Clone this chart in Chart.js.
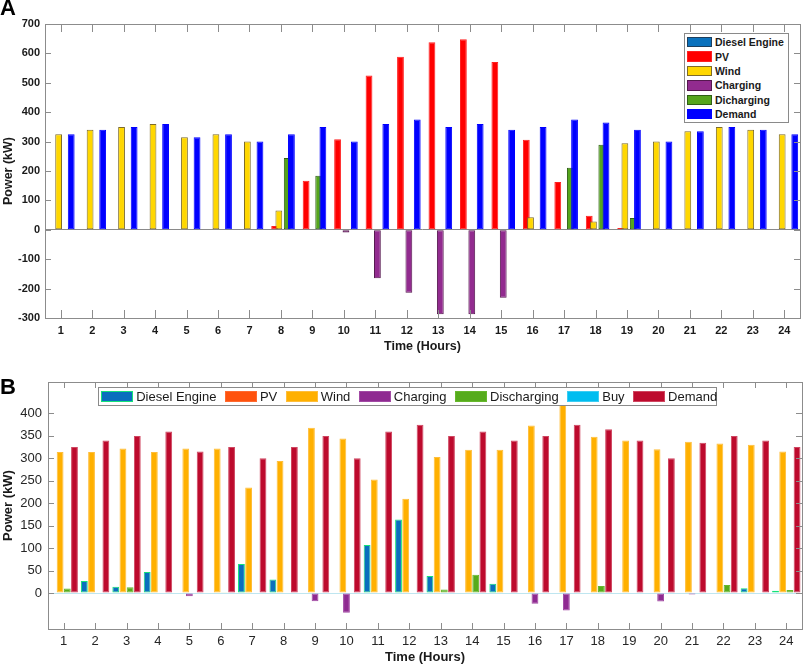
<!DOCTYPE html>
<html>
<head>
<meta charset="utf-8">
<script src="https://cdn.jsdelivr.net/npm/chart.js@4.4.1/dist/chart.umd.min.js"></script>
<style>
  body { margin: 0; background: #fff; width: 803px; height: 665px; position: relative; overflow: hidden;
         font-family: "Liberation Sans", Arial, sans-serif; }
  canvas { position: absolute; left: 0; }
  #chartA { top: 0; }
  #chartB { top: 356px; }
  .panel-label { position: absolute; left: 0; font-weight: bold; font-size: 22px; line-height: 22px; color: #000; }
  .legend { position: absolute; box-sizing: border-box; background: #fff; border: 1px solid #8a8a8a; color: #1a1a1a; }
  #legendA { left: 684px; top: 33px; width: 105px; height: 90px; padding: 1px 0 0 2.3px;
             font-weight: bold; font-size: 10.5px; }
  #legendA .row { height: 14.4px; display: flex; align-items: center; white-space: nowrap; }
  #legendA .sw { width: 25px; height: 10.5px; box-sizing: border-box; border: 1px solid; margin-right: 2.7px; }
  #legendB { left: 98px; top: 387px; width: 619px; height: 19px; padding-left: 2px;
             display: flex; align-items: center; gap: 8.3px; font-size: 13px; }
  #legendB .item { display: flex; align-items: center; white-space: nowrap; }
  #legendB .sw { width: 32px; height: 11.7px; box-sizing: border-box; border: 1px solid; margin-right: 3.2px; }
</style>
</head>
<body>
<canvas id="chartA" width="803" height="356"></canvas>
<canvas id="chartB" width="803" height="309"></canvas>
<div class="panel-label" style="top:-3px">A</div>
<div class="panel-label" style="top:376px">B</div>
<div id="legendA" class="legend"></div>
<div id="legendB" class="legend"></div>
<script>
// hours on the x axis (both panels)
const hours = ['1','2','3','4','5','6','7','8','9','10','11','12',
               '13','14','15','16','17','18','19','20','21','22','23','24'];

// panel A values (kW)
const dieselA      = [0,0,0,0,0,0,0,0,0,0,0,0,0,0,0,0,0,0,0,0,0,0,0,0];
const pvA          = [0,0,0,0,0,0,0,13,167,308,525,589,638,648,571,306,163,48,6,0,0,0,0,0];
const windA        = [325,340,350,360,315,325,300,66,0,0,0,0,0,0,0,43,0,28,294,300,335,350,340,325];
const chargingA    = [0,0,0,0,0,0,0,0,0,-9,-165,-214,-287,-287,-231,0,0,0,0,0,0,0,0,0];
const dischargingA = [0,0,0,0,0,0,0,244,184,0,0,0,0,0,0,0,211,289,40,0,0,0,0,0];
const demandA      = [325,340,350,360,315,325,300,325,350,300,360,375,350,360,340,350,375,365,340,300,335,350,340,325];
const yTicksA = [-300,-200,-100,0,100,200,300,400,500,600,700];

// panel B values (kW)
const dieselB      = [0,27,14,47,0,0,65,30,0,0,107,164,38,0,21,0,0,0,0,0,0,0,11,5];
const pvB          = [0,0,0,0,0,0,0,0,0,0,0,0,0,0,0,0,0,0,0,0,0,0,0,0];
const windB        = [314,314,322,314,322,322,235,294,368,344,253,210,303,319,319,373,420,348,340,320,337,333,330,315];
const chargingB    = [0,0,0,0,-7,0,0,0,-18,-44,0,0,0,0,0,-24,-39,0,0,-19,-3,0,0,0];
const dischargingB = [10,0,13,0,0,2,0,0,0,0,0,0,8,41,0,0,0,16,0,0,0,18,0,7];
const buyB         = [0,0,0,0,0,0,0,0,0,0,0,0,0,0,0,0,0,0,0,0,0,0,0,0];
const demandB      = [325,340,350,360,315,325,300,325,350,300,360,375,350,360,340,350,375,365,340,300,335,350,340,325];
const yTicksB = [0,50,100,150,200,250,300,350,400];

const namesA = ['Diesel Engine','PV','Wind','Charging','Dicharging','Demand'];
const fillA  = ['#0b72bd','#ff0000','#ffd700','#922b8f','#55a51c','#0000ff'];
const edgeA  = ['#1d3f5e','#ff2020','#7d6b2a','#55184f','#2f5f16','#0000ff'];

const namesB = ['Diesel Engine','PV','Wind','Charging','Discharging','Buy','Demand'];
const fillB  = ['#0a6fbd','#ff520d','#ffb000','#8f2a91','#56ab1c','#00bdf0','#bd0a2d'];
const edgeB  = ['#14e27a','#ff6a30','#ffbe3a','#a24aa4','#66b82c','#3ccdf2','#cf4660'];

Chart.defaults.font.family = '"Liberation Sans", Arial, sans-serif';
Chart.defaults.animation = false;

// MATLAB draws later series on top, chart.js the other way round
const drawInOrder = {
  id: 'drawInOrder',
  beforeDatasetsDraw(chart) {
    chart.getSortedVisibleDatasetMetas().forEach(meta => {
      if (chart._drawDataset) chart._drawDataset(meta); else meta.controller.draw();
    });
    return false;
  }
};

// box round the plot + inward tick marks
const frame = {
  id: 'frame',
  afterDraw(chart, args, opts) {
    const { ctx, chartArea: a, scales: { x, y } } = chart;
    ctx.save();
    ctx.strokeStyle = opts.color;
    ctx.lineWidth = 1;
    ctx.beginPath();
    x.ticks.forEach((t, i) => {
      const px = Math.round(x.getPixelForTick(i)) + 0.5;
      ctx.moveTo(px, a.top); ctx.lineTo(px, a.top + opts.xTick);
      ctx.moveTo(px, a.bottom); ctx.lineTo(px, a.bottom - opts.xTick);
    });
    y.ticks.forEach(t => {
      const py = Math.round(y.getPixelForValue(t.value)) + 0.5;
      ctx.moveTo(a.left, py); ctx.lineTo(a.left + opts.yTick, py);
      ctx.moveTo(a.right, py); ctx.lineTo(a.right - opts.yTick, py);
    });
    ctx.stroke();
    ctx.strokeRect(Math.round(a.left) + 0.5, Math.round(a.top) + 0.5,
                   Math.round(a.right - a.left), Math.round(a.bottom - a.top));
    ctx.restore();
  }
};

function makeDatasets(names, values, fills, edges) {
  return names.map((n, i) => ({
    label: n,
    data: values[i],
    backgroundColor: fills[i],
    borderColor: edges[i],
    borderWidth: 1,
    borderSkipped: false
  }));
}

// ---- panel A ----
new Chart(document.getElementById('chartA'), {
  type: 'bar',
  data: {
    labels: hours,
    datasets: makeDatasets(namesA, [dieselA, pvA, windA, chargingA, dischargingA, demandA], fillA, edgeA)
  },
  options: {
    responsive: false,
    events: [],
    categoryPercentage: 0.8,
    barPercentage: 1.62,
    layout: { padding: { top: 24, right: 3, left: 0, bottom: 0 } },
    plugins: {
      legend: { display: false },
      tooltip: { enabled: false },
      frame: { color: '#8c8c8c', xTick: 8, yTick: 6 }
    },
    scales: {
      x: {
        afterFit: s => { s.height = 38; },
        grid: { display: false, drawTicks: false },
        border: { display: false },
        ticks: { font: { size: 11, weight: 'bold' }, color: '#1a1a1a', padding: 6, maxRotation: 0, autoSkip: false },
        title: { display: true, text: 'Time (Hours)', color: '#1a1a1a',
                 font: { size: 12.5, weight: 'bold' }, padding: { top: 0, bottom: 2 } }
      },
      y: {
        min: -300, max: 700,
        afterBuildTicks: s => { s.ticks = yTicksA.map(v => ({ value: v })); },
        afterFit: s => { s.width = 45; },
        grid: { drawTicks: false, color: c => (c.tick && c.tick.value === 0) ? '#8a8a8a' : 'rgba(0,0,0,0)' },
        border: { display: false },
        ticks: { font: { size: 11, weight: 'bold' }, color: '#1a1a1a', padding: 5 },
        title: { display: true, text: 'Power (kW)', color: '#1a1a1a',
                 font: { size: 12.5, weight: 'bold' }, padding: { top: 1, bottom: 0 } }
      }
    }
  },
  plugins: [drawInOrder, frame]
});

// ---- panel B ----
new Chart(document.getElementById('chartB'), {
  type: 'bar',
  data: {
    labels: hours,
    datasets: makeDatasets(namesB, [dieselB, pvB, windB, chargingB, dischargingB, buyB, demandB], fillB, edgeB)
  },
  options: {
    responsive: false,
    events: [],
    categoryPercentage: 0.8,
    barPercentage: 1.9,
    layout: { padding: { top: 26, right: 1, left: 0, bottom: 0 } },
    plugins: {
      legend: { display: false },
      tooltip: { enabled: false },
      frame: { color: '#8c8c8c', xTick: 6, yTick: 6 }
    },
    scales: {
      x: {
        afterFit: s => { s.height = 36; },
        grid: { display: false, drawTicks: false },
        border: { display: false },
        ticks: { font: { size: 13 }, color: '#262626', padding: 5, maxRotation: 0, autoSkip: false },
        title: { display: true, text: 'Time (Hours)', color: '#1a1a1a',
                 font: { size: 13, weight: 'bold' }, padding: { top: 0, bottom: 0 } }
      },
      y: {
        min: -80, max: 470,
        afterBuildTicks: s => { s.ticks = yTicksB.map(v => ({ value: v })); },
        afterFit: s => { s.width = 48; },
        grid: { drawTicks: false, color: c => (c.tick && c.tick.value === 0) ? '#bfe6f0' : 'rgba(0,0,0,0)' },
        border: { display: false },
        ticks: { font: { size: 13 }, color: '#262626', padding: 6 },
        title: { display: true, text: 'Power (kW)', color: '#1a1a1a',
                 font: { size: 13, weight: 'bold' }, padding: { top: 1, bottom: 0 } }
      }
    }
  },
  plugins: [drawInOrder, frame]
});

// legends, drawn as boxes over the plot like the original
const legA = document.getElementById('legendA');
legA.innerHTML = namesA.map((n, i) =>
  `<div class="row"><span class="sw" style="background:${fillA[i]};border-color:${edgeA[i]}"></span>${n}</div>`
).join('');

const legB = document.getElementById('legendB');
legB.innerHTML = namesB.map((n, i) =>
  `<div class="item"><span class="sw" style="background:${fillB[i]};border-color:${edgeB[i]}"></span>${n}</div>`
).join('');
</script>
</body>
</html>
